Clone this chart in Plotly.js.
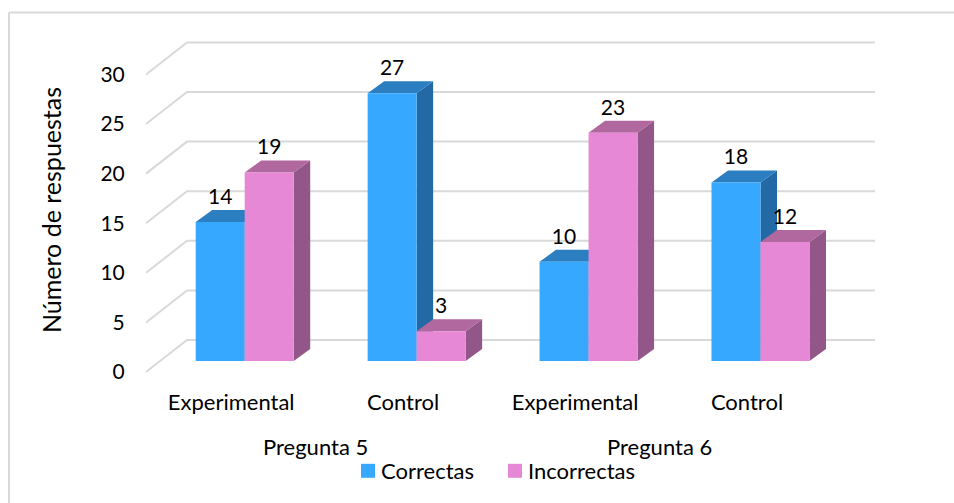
<!DOCTYPE html>
<html>
<head>
<meta charset="utf-8">
<script src="https://cdn.plot.ly/plotly-3.0.1.min.js"></script>
<style>html,body{margin:0;padding:0;background:#fff}#c{width:954px;height:503px}</style>
</head>
<body>
<div id="c"></div>
<script>
const categories = ["Experimental", "Control", "Experimental", "Control"];
const groups = ["Pregunta 5", "Pregunta 6"];
const correctas = [14, 27, 10, 18];
const incorrectas = [19, 3, 23, 12];
const yTicks = [0, 5, 10, 15, 20, 25, 30];

const F = "Lato, Carlito, sans-serif";
const FS = 22;
const W = 954, H = 503;
const L = 146, R = 880, T = 30, B = 390;     // plot box in page px
const pxX = 171.93, pxY = 9.92;              // px per category, px per response
const x0px = 244.7, y0px = 361;              // where category 0 / value 0 fall
const barW = 49 / pxX;
const depX = 16.5 / pxX, depY = 12 / pxY;    // bar depth
const backX = 41 / pxX, backY = 32 / pxY;    // wall depth
const frontOff = -11 / pxY;                  // front edge of floor vs. bar plane
const xs = categories.map((_, i) => i);

function faces(vals, off, fill, z) {
  const top = {x: [], y: []}, side = {x: [], y: []};
  vals.forEach((v, i) => {
    const a = i + off, b = a + barW;
    top.x.push(a, b, b + depX, a + depX, a, null);
    top.y.push(v, v, v + depY, v + depY, v, null);
    side.x.push(b, b + depX, b + depX, b, b, null);
    side.y.push(0, depY, v + depY, v, 0, null);
  });
  const mk = (p, c) => ({x: p.x, y: p.y, type: "scatter", mode: "lines", fill: "toself",
    fillcolor: c, line: {width: 0, color: c}, hoverinfo: "skip", showlegend: false, zorder: z});
  return [mk(side, fill.side), mk(top, fill.top)];
}

const gx = [], gy = [];
const xFront = (L - x0px) / pxX, xBackEnd = (875 - x0px) / pxX;
yTicks.forEach(v => {
  gx.push(xFront, xFront + backX, xBackEnd, null);
  gy.push(v + frontOff, v + frontOff + backY, v + frontOff + backY, null);
});

const blue = {front: "#36A8FF", top: "#2B7FC1", side: "#2269A5"};
const pink = {front: "#E688D6", top: "#B0689F", side: "#925688"};

const bar = (name, vals, off, c, z) => ({
  name, x: xs, y: vals, type: "bar", width: barW, offset: off,
  marker: {color: c, line: {width: 0}}, hoverinfo: "y", zorder: z, showlegend: true
});

const labelLift = 23.5 / pxY;
const labels = (vals, off) => ({
  x: xs.map(i => i + off + barW / 2), y: vals.map(v => v + labelLift),
  text: vals.map(String), type: "scatter", mode: "text", textposition: "middle center",
  textfont: {family: F, size: 21, color: "#000"}, hoverinfo: "skip", showlegend: false,
  cliponaxis: false, zorder: 6
});

const data = [
  {x: gx, y: gy, type: "scatter", mode: "lines", line: {color: "#D9D9D9", width: 2},
   hoverinfo: "skip", showlegend: false, zorder: 0},
  ...faces(correctas, -barW, blue, 1),
  bar("Correctas", correctas, -barW, blue.front, 2),
  ...faces(incorrectas, 0, pink, 3),
  bar("Incorrectas", incorrectas, 0, pink.front, 4),
  labels(correctas, -barW),
  labels(incorrectas, 0)
];

const px2 = p => (p - L) / (R - L);
const py2 = p => (B - p) / (B - T);
const layout = {
  width: W, height: H, paper_bgcolor: "#fff", plot_bgcolor: "rgba(0,0,0,0)",
  margin: {l: L, r: W - R, t: T, b: H - B, autoexpand: false}, barmode: "overlay",
  font: {family: F, size: FS, color: "#000"},
  xaxis: {
    range: [(L - x0px) / pxX, (R - x0px) / pxX], showgrid: false, zeroline: false, showline: false,
    tickmode: "array", tickvals: xs.map(i => i - 13.5 / pxX), ticktext: categories,
    ticks: "", tickfont: {family: F, size: FS}, tickangle: 0, ticklabelstandoff: -3
  },
  yaxis: {
    range: [(y0px - B) / pxY, (y0px - T) / pxY], showgrid: false, zeroline: false, showline: false,
    tickmode: "array", tickvals: yTicks.map(v => v + frontOff), ticktext: yTicks.map(String),
    ticks: "outside", ticklen: 16, tickcolor: "rgba(0,0,0,0)", tickfont: {family: F, size: 21},
    title: {text: "Número de respuestas", font: {family: F, size: 25}, standoff: 31}
  },
  legend: {
    orientation: "h", x: px2(341), y: py2(450), xanchor: "left", yanchor: "top",
    font: {family: F, size: FS}, bgcolor: "rgba(0,0,0,0)", traceorder: "normal",
    entrywidth: 102, entrywidthmode: "pixels", itemclick: false, itemdoubleclick: false
  },
  annotations: groups.map((g, i) => ({
    text: g, xref: "x", yref: "paper", x: i * 2 + 0.5 - 15.5 / pxX, y: py2(447),
    showarrow: false, xanchor: "center", yanchor: "middle", font: {family: F, size: FS}
  })),
  shapes: [
    {type: "line", xref: "paper", yref: "paper", x0: px2(9), x1: px2(9), y0: py2(12.5), y1: py2(H),
     line: {color: "#D9D9D9", width: 2}, layer: "below"},
    {type: "line", xref: "paper", yref: "paper", x0: px2(9), x1: px2(W), y0: py2(12.5), y1: py2(12.5),
     line: {color: "#D9D9D9", width: 2}, layer: "below"}
  ]
};
// legend keys: larger squares set closer to their text
function fixKeys() {
  document.querySelectorAll("#c .legend .legendpoints path").forEach(p => {
    p.setAttribute("d", "M14,7H0V-7H14Z");
  });
}
const gd = document.getElementById("c");
Plotly.newPlot(gd, data, layout, {displayModeBar: false, responsive: false}).then(() => {
  fixKeys();
  gd.on("plotly_afterplot", fixKeys);
  setTimeout(fixKeys, 0);
  setTimeout(fixKeys, 100);
});
</script>
</body>
</html>
